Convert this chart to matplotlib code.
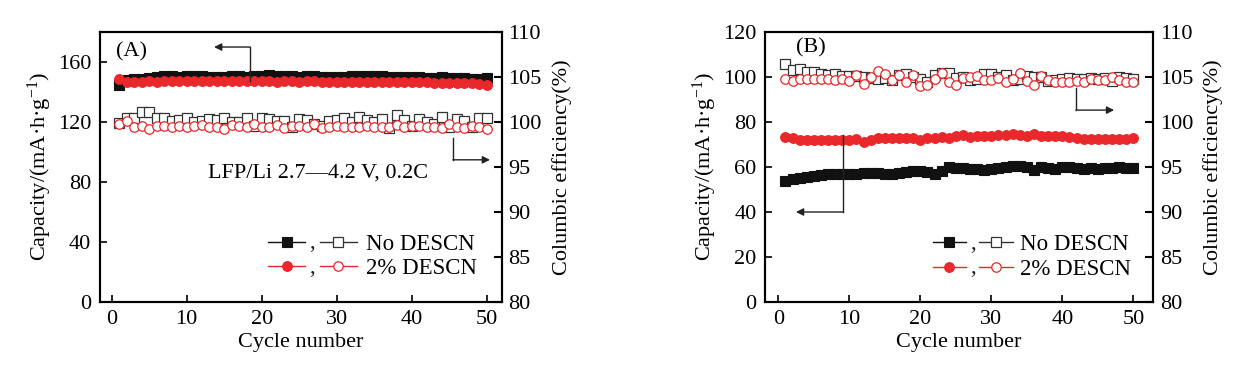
import matplotlib
matplotlib.use('Agg')
import matplotlib.pyplot as plt
from matplotlib.lines import Line2D
from matplotlib.text import Text
from matplotlib.legend_handler import HandlerBase
import numpy as np

plt.rcParams['font.family'] = ['Liberation Serif', 'DejaVu Serif']
plt.rcParams['mathtext.fontset'] = 'custom'
plt.rcParams['mathtext.rm'] = 'Liberation Serif'
plt.rcParams['mathtext.it'] = 'Liberation Serif:italic'

# ---------------- data ----------------
cycles = list(range(1, 51))

a_cap_no = [144.5, 148.0, 148.5, 149.0, 149.5, 150.0, 150.5, 150.5, 150.0, 150.5,
            150.5, 150.5, 150.0, 150.0, 150.0, 150.5, 150.5, 150.0, 150.5, 151.0,
            151.5, 151.0, 150.5, 150.5, 150.0, 150.5, 150.5, 150.0, 150.0, 150.0,
            150.0, 150.5, 151.0, 151.0, 150.5, 150.5, 150.0, 150.0, 150.0, 150.0,
            150.0, 149.5, 149.5, 150.0, 149.5, 149.5, 149.5, 149.0, 149.0, 149.5]
a_cap_2 = [148.7, 146.8, 147.0, 147.0, 147.2, 147.0, 147.2, 147.3, 147.2, 147.3,
           147.2, 147.3, 147.4, 147.3, 147.4, 147.3, 147.2, 147.3, 147.3, 147.3,
           147.2, 147.0, 147.2, 147.1, 147.0, 147.1, 147.3, 147.0, 147.0, 146.9,
           147.0, 146.9, 146.8, 146.9, 146.8, 146.7, 146.8, 146.7, 146.7, 146.6,
           146.5, 146.5, 146.3, 146.2, 146.1, 146.0, 145.8, 145.7, 145.5, 144.5]
a_ce_no = [99.9, 100.4, 100.5, 101.1, 101.1, 100.5, 100.4, 100.1, 100.2, 100.4,
           100.0, 100.1, 100.3, 100.2, 100.4, 100.0, 100.0, 100.5, 99.6, 100.5,
           100.3, 100.1, 100.1, 99.4, 100.3, 100.2, 99.8, 99.6, 100.1, 100.2,
           100.4, 100.0, 100.6, 100.2, 100.0, 100.3, 99.3, 100.8, 100.2, 99.6,
           100.3, 100.0, 99.8, 100.6, 99.5, 100.3, 100.1, 99.4, 100.5, 100.4]
a_ce_2 = [99.8, 100.1, 99.4, 99.6, 99.2, 99.6, 99.6, 99.4, 99.6, 99.4,
          99.6, 99.7, 99.5, 99.5, 99.2, 99.7, 99.6, 99.5, 99.8, 99.5,
          99.5, 99.7, 99.3, 99.6, 99.6, 99.5, 99.8, 99.3, 99.4, 99.6,
          99.5, 99.5, 99.4, 99.6, 99.5, 99.4, 99.5, 99.7, 99.5, 99.6,
          99.6, 99.5, 99.4, 99.3, 99.8, 99.5, 99.3, 99.6, 99.5, 99.2]

b_cap_no = [53.9, 54.6, 55.1, 55.6, 56.1, 56.4, 56.7, 56.8, 56.9, 57.0,
            57.1, 57.2, 57.3, 57.2, 57.0, 57.0, 57.2, 57.6, 58.1, 58.4,
            57.9, 57.0, 58.2, 59.9, 59.7, 59.5, 59.3, 59.1, 58.8, 59.0,
            59.5, 60.0, 60.3, 60.3, 60.2, 58.8, 59.9, 59.5, 58.9, 60.0,
            59.8, 59.5, 59.3, 59.4, 59.3, 59.4, 59.6, 59.8, 59.6, 59.4]
b_cap_2 = [73.5, 72.7, 72.2, 72.1, 72.1, 72.1, 72.1, 72.1, 72.1, 72.1,
           72.3, 70.9, 71.9, 73.1, 72.9, 72.7, 73.1, 73.1, 73.1, 72.1,
           72.9, 73.1, 73.4, 72.9, 73.7, 74.3, 73.4, 74.0, 74.0, 74.0,
           74.1, 74.3, 74.6, 74.3, 74.0, 74.6, 73.7, 74.0, 73.7, 74.0,
           73.4, 72.9, 72.3, 72.6, 72.6, 72.6, 72.6, 72.6, 72.6, 72.9]
b_ce_no = [106.4, 105.8, 105.85, 105.6, 105.6, 105.3, 105.2, 105.3, 105.1, 105.1,
           105.15, 105.0, 104.85, 104.8, 104.9, 104.7, 105.2, 105.3, 105.0, 104.8,
           104.5, 105.2, 105.4, 105.5, 104.9, 105.0, 104.7, 104.8, 105.3, 105.3,
           105.0, 105.2, 104.7, 104.8, 105.1, 104.95, 104.95, 104.6, 104.7, 104.8,
           104.85, 104.8, 104.8, 104.9, 104.8, 104.85, 104.6, 105.0, 104.85, 104.75]
b_ce_2 = [104.8, 104.6, 104.8, 104.8, 104.8, 104.8, 104.8, 104.7, 104.8, 104.6,
          105.2, 104.2, 105.0, 105.7, 105.3, 104.7, 105.2, 104.5, 105.2, 104.0,
          104.1, 104.8, 105.5, 104.5, 104.15, 104.9, 104.95, 105.1, 104.7, 104.7,
          104.85, 104.4, 104.8, 105.4, 104.6, 104.15, 105.1, 104.7, 104.5, 104.5,
          104.5, 104.6, 104.5, 104.8, 104.7, 104.7, 105.0, 104.7, 104.5, 104.45]

labels = ['No DESCN', '2% DESCN']

BLACK = '#111111'
RED = '#e8282b'


class PairHandler(HandlerBase):
    def create_artists(self, legend, orig_handle, xdescent, ydescent,
                       width, height, fontsize, trans):
        filled, hollow = orig_handle
        y = height / 2 - ydescent
        x0 = -xdescent
        seg = width * 0.42
        gap = width - 2 * seg
        arts = []
        for h, xs in ((filled, x0), (hollow, x0 + seg + gap)):
            ln = Line2D([xs, xs + seg], [y, y], color=h.get_color(), lw=1.0)
            mk = Line2D([xs + seg / 2], [y], ls='none', marker=h.get_marker(),
                        markersize=h.get_markersize(),
                        markerfacecolor=h.get_markerfacecolor(),
                        markeredgecolor=h.get_markeredgecolor(),
                        markeredgewidth=h.get_markeredgewidth())
            for a in (ln, mk):
                a.set_transform(trans)
                arts.append(a)
        cm = Text(x0 + seg + gap / 2, y - fontsize * 0.05, ',', ha='center', va='center',
                  fontsize=fontsize, color='#222222')
        cm.set_transform(trans)
        arts.append(cm)
        return arts


fig = plt.figure(figsize=(12.38, 3.77), dpi=100)
axA = fig.add_axes([0.0805, 0.199, 0.3247, 0.716])
axB = fig.add_axes([0.6178, 0.199, 0.3137, 0.716])

FS = 16


def style(ax, ax2):
    for a in (ax, ax2):
        for s in a.spines.values():
            s.set_linewidth(1.5)
    ax.tick_params(axis='both', direction='in', length=5, width=1.2, labelsize=FS,
                   pad=6, top=False, right=False)
    ax2.tick_params(axis='y', direction='in', length=6, width=1.5, labelsize=FS, pad=5)
    ax.set_xlabel('Cycle number', fontsize=16, labelpad=3)
    ax.set_ylabel('Capacity/(mA·h·g$^{-1}$)', fontsize=16, labelpad=3)
    ax2.set_ylabel('Columbic efficiency(%)', fontsize=16, labelpad=7)
    ax.set_xticks([0, 10, 20, 30, 40, 50])
    ax2.set_ylim(80, 110)
    ax2.set_yticks([80, 85, 90, 95, 100, 105, 110])


def draw(ax, cap_no, cap_2, ce_no, ce_2):
    ax2 = ax.twinx()
    l1, = ax.plot(cycles, cap_no, color=BLACK, lw=1.0, marker='s', markersize=7,
                  markerfacecolor=BLACK, markeredgecolor=BLACK, markeredgewidth=0.8)
    l3, = ax.plot(cycles, cap_2, color=RED, lw=1.0, marker='o', markersize=7,
                  markerfacecolor=RED, markeredgecolor=RED, markeredgewidth=0.8)
    l2, = ax2.plot(cycles, ce_no, color='#333333', lw=0.9, marker='s', markersize=6.8,
                   markerfacecolor='white', markeredgecolor='#333333', markeredgewidth=0.9)
    l4, = ax2.plot(cycles, ce_2, color=RED, lw=0.9, marker='o', markersize=6.8,
                   markerfacecolor='white', markeredgecolor=RED, markeredgewidth=0.9)
    return ax2, (l1, l2), (l3, l4)


def arrow(ax, xv, y0, y1, xtip):
    ax.plot([xv, xv], [y0, y1], color='#222222', lw=1.0)
    ax.annotate('', xy=(xtip, y1), xytext=(xv, y1),
                arrowprops=dict(arrowstyle='-|>', color='#222222', lw=1.0,
                                mutation_scale=11, shrinkA=0, shrinkB=0))


# Panel A
a2, hA1, hA2 = draw(axA, a_cap_no, a_cap_2, a_ce_no, a_ce_2)
axA.set_xlim(-1.6, 52.0)
axA.set_ylim(0, 180)
axA.set_yticks([0, 40, 80, 120, 160])
style(axA, a2)
arrow(axA, 18.45, 147.4, 170.0, 13.65)
arrow(axA, 45.5, 109.6, 94.8, 50.45)
axA.text(12.85, 86.2, 'LFP/Li 2.7—4.2 V, 0.2C', fontsize=16, va='center', ha='left')
axA.text(0.041, 0.926, '(A)', transform=axA.transAxes, fontsize=16, va='center', ha='left')
a2.legend([hA1, hA2], labels, handler_map={tuple: PairHandler()}, frameon=False,
          fontsize=16.5, handlelength=3.9, handletextpad=0.4, labelspacing=0.15,
          loc='center', bbox_to_anchor=(0.679, 0.1685), borderpad=0.2)

# Panel B
b2, hB1, hB2 = draw(axB, b_cap_no, b_cap_2, b_ce_no, b_ce_2)
axB.set_xlim(-1.9, 52.8)
axB.set_ylim(0, 120)
axB.set_yticks([0, 20, 40, 60, 80, 100, 120])
style(axB, b2)
arrow(axB, 9.07, 74.2, 40.0, 2.48)
arrow(axB, 41.9, 95.0, 85.3, 47.3)
axB.text(0.080, 0.94, '(B)', transform=axB.transAxes, fontsize=16, va='center', ha='left')
b2.legend([hB1, hB2], labels, handler_map={tuple: PairHandler()}, frameon=False,
          fontsize=16.5, handlelength=3.5, handletextpad=0.3, labelspacing=0.15,
          loc='center', bbox_to_anchor=(0.687, 0.167), borderpad=0.2)

fig.savefig('out.png', dpi=100)
